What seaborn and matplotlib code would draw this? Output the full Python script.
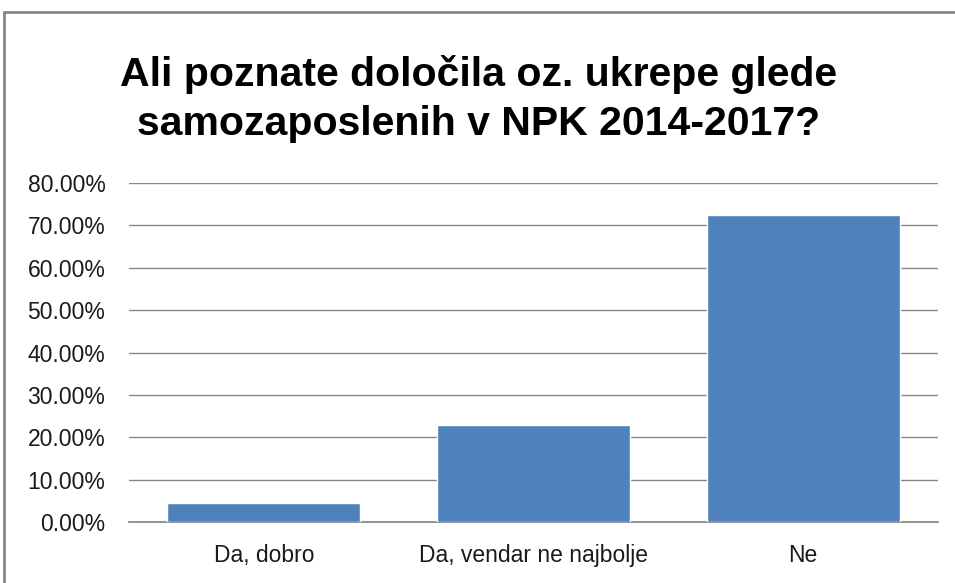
import seaborn as sns
import matplotlib.pyplot as plt
import pandas as pd
from matplotlib.patches import Rectangle
from matplotlib.ticker import FuncFormatter, MultipleLocator

categories = ["Da, dobro", "Da, vendar ne najbolje", "Ne"]
shares = [4.6, 22.9, 72.5]
title = "Ali poznate določila oz. ukrepe glede\nsamozaposlenih v NPK 2014-2017?"

sns.set_theme(style="white")
plt.rcParams['font.family'] = ['Liberation Sans', 'DejaVu Sans']

df = pd.DataFrame({"kategorija": categories, "delez": shares})

fig = plt.figure(figsize=(9.55, 5.83), dpi=100)
ax = fig.add_axes([129 / 955, 1 - 522 / 583, (938 - 129) / 955, (522 - 183) / 583])

sns.barplot(data=df, x="kategorija", y="delez", color="#4F81BD", saturation=1,
            width=0.715, ax=ax, zorder=3)

ax.set_ylim(0, 80)
ax.yaxis.set_major_locator(MultipleLocator(10))
ax.yaxis.set_major_formatter(FuncFormatter(lambda v, p: f"{v:.2f}%"))
ax.grid(axis="y", color="#878787", linewidth=1, zorder=0)
ax.set_axisbelow(True)
for s in ["top", "right", "left"]:
    ax.spines[s].set_visible(False)
ax.spines["bottom"].set_color("#878787")
ax.tick_params(axis="both", length=0, labelsize=16.5, colors="#1a1a1a")
ax.tick_params(axis="y", pad=17)
ax.tick_params(axis="x", pad=16)
ax.set_xlabel("")
ax.set_ylabel("")

fig.text(0.501, 1 - 99 / 583, title, ha="center", va="center", fontsize=29.5,
         fontweight="bold", linespacing=1.35, color="black")

fig.patches.append(Rectangle((4 / 955, -0.1), 1.1, 1 - 12 / 583 + 0.1,
                             transform=fig.transFigure, fill=False,
                             edgecolor="#868686", linewidth=2))

fig.savefig("out.png", dpi=100)
